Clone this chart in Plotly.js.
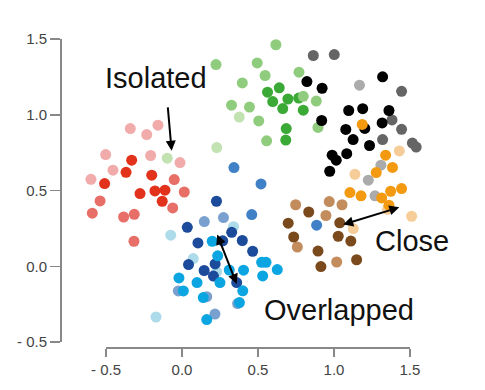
<!DOCTYPE html>
<html>
<head>
<meta charset="utf-8">
<script src="https://cdn.plot.ly/plotly-3.0.1.min.js"></script>
<style>html,body{margin:0;padding:0;background:#fff;}#chart{width:485px;height:390px;}</style>
</head>
<body>
<div id="chart"></div>
<script>
// ---- data ----
const paleRedX = [-0.340, -0.232, -0.158, -0.502, -0.206, -0.013, -0.454, -0.599];
const paleRedY = [0.909, 0.869, 0.931, 0.737, 0.731, 0.684, 0.634, 0.574];
const midRedX = [-0.051, 0.015, -0.061, -0.539, -0.590, -0.384, -0.314, -0.316];
const midRedY = [0.572, 0.490, 0.385, 0.431, 0.350, 0.325, 0.343, 0.165];
const darkRedX = [-0.331, -0.368, -0.509, -0.199, -0.276, -0.178, -0.112, -0.130];
const darkRedY = [0.700, 0.620, 0.546, 0.601, 0.480, 0.497, 0.502, 0.429];

const paleGreenX = [0.377, 0.229, -0.097];
const paleGreenY = [0.985, 0.783, 0.713];
const lightGreenX = [0.618, 0.224, 0.495, 0.547, 0.770, 0.397, 0.326, 0.444, 0.505, 0.884, 0.895, 0.557];
const lightGreenY = [1.462, 1.331, 1.342, 1.259, 1.281, 1.210, 1.063, 1.051, 0.959, 1.090, 0.916, 0.828];
const darkGreenX = [0.563, 0.640, 0.597, 0.697, 0.663, 0.768, 0.798, 0.686, 0.683];
const darkGreenY = [1.149, 1.178, 1.087, 1.104, 1.041, 1.110, 1.030, 0.909, 0.833];
const topGreenX = [0.798];
const topGreenY = [1.122];

const lightGrayX = [1.168, 1.309, 1.226, 1.270];
const lightGrayY = [1.195, 0.667, 0.568, 0.465];
const darkGrayX = [0.864, 1.002, 1.445, 1.382, 1.445, 1.320, 1.516, 1.541];
const darkGrayY = [1.391, 1.397, 1.155, 0.966, 0.904, 0.836, 0.813, 0.787];
const blackX = [0.822, 0.922, 1.320, 1.097, 1.189, 1.362, 0.919, 1.078, 1.203, 1.317, 1.126, 1.234, 1.084, 0.988, 1.015, 0.972];
const blackY = [1.219, 1.175, 1.250, 1.028, 1.040, 1.028, 0.962, 0.903, 0.910, 0.946, 0.836, 0.797, 0.743, 0.733, 0.700, 0.627];

const lightOrangeX = [1.138, 1.430, 1.511, 1.127, 1.352];
const lightOrangeY = [0.607, 0.761, 0.330, 0.249, 0.376];
const orangeX = [1.340, 1.385, 1.278, 1.186, 1.105, 1.178, 1.314, 1.373, 1.445, 1.362];
const orangeY = [0.733, 0.652, 0.618, 0.936, 0.486, 0.465, 0.451, 0.495, 0.513, 0.403];

const lightBrownX = [0.748, 0.969, 1.053, 0.947, 0.759, 1.018];
const lightBrownY = [0.406, 0.427, 0.406, 0.335, 0.127, 0.028];
const darkBrownX = [0.834, 0.699, 1.038, 0.735, 1.028, 1.111, 0.895, 1.149, 0.914];
const darkBrownY = [0.358, 0.284, 0.287, 0.193, 0.198, 0.166, 0.100, 0.043, -0.002];

const paleCyanX = [0.339, -0.074, 0.074, 0.228, -0.171];
const paleCyanY = [0.261, 0.205, 0.051, -0.038, -0.335];
const steelX = [0.147, 0.273, -0.024, 0.163, 0.366, 0.217];
const steelY = [0.295, 0.321, -0.163, -0.201, -0.246, -0.316];
const midBlueX = [0.342, 0.520, 0.459, 0.886];
const midBlueY = [0.651, 0.543, 0.341, 0.271];
const navyX = [0.227, 0.035, 0.327, 0.105, 0.268, 0.397, 0.465, 0.043, 0.218, 0.146, 0.207, 0.360];
const navyY = [0.429, 0.257, 0.224, 0.154, 0.168, 0.170, 0.099, 0.011, 0.015, -0.028, -0.065, -0.108];
const cyanX = [0.199, 0.235, 0.311, 0.405, 0.524, 0.553, 0.627, 0.531, -0.020, 0.099, 0.250, 0.009, 0.400, 0.140, 0.378, 0.163];
const cyanY = [0.165, 0.069, -0.025, -0.026, 0.026, 0.026, -0.022, -0.064, -0.077, -0.108, -0.108, -0.163, -0.162, -0.207, -0.240, -0.352];

const tickVals = [-0.5, 0.0, 0.5, 1.0, 1.5];
const xTickText = ['- 0.5', '0.0', '0.5', '1.0', '1.5'];
const yTickText = ['- 0.5', '0.0', '0.5', '1.0', '1.5'];

// ---- traces ----
const groups = [
  [paleRedX, paleRedY, '#f2abab'],
  [midRedX, midRedY, '#e86e68'],
  [darkRedX, darkRedY, '#e2321c'],
  [paleGreenX, paleGreenY, '#c2e2b2'],
  [lightGreenX, lightGreenY, '#90cc7e'],
  [darkGreenX, darkGreenY, '#3aa935'],
  [topGreenX, topGreenY, '#90cc7e'],
  [lightGrayX, lightGrayY, '#ababab'],
  [darkGrayX, darkGrayY, '#656565'],
  [blackX, blackY, '#000000'],
  [lightOrangeX, lightOrangeY, '#f6cd98'],
  [orangeX, orangeY, '#f39a10'],
  [lightBrownX, lightBrownY, '#c28c5c'],
  [darkBrownX, darkBrownY, '#7a4a1d'],
  [paleCyanX, paleCyanY, '#aedbe9'],
  [steelX, steelY, '#7aa0cf'],
  [midBlueX, midBlueY, '#3f80c7'],
  [navyX, navyY, '#1b4b9a'],
  [cyanX, cyanY, '#0ba6e2']
];
const traces = groups.map(g => ({
  type: 'scatter', mode: 'markers', x: g[0], y: g[1],
  marker: {color: g[2], size: 11, line: {width: 0}},
  hoverinfo: 'skip', showlegend: false
}));

const axisColor = '#888888';
const tickFont = {family: 'Liberation Sans, Arial, sans-serif', size: 15, color: '#444444'};
const labelFont = {family: 'Liberation Sans, Arial, sans-serif', size: 29, color: '#111111'};

const layout = {
  width: 485, height: 390,
  margin: {l: 61, r: 10, t: 20, b: 42},
  paper_bgcolor: '#ffffff', plot_bgcolor: '#ffffff',
  showlegend: false,
  xaxis: {
    range: [-0.796, 1.928], showgrid: false, zeroline: false, showline: false,
    tickvals: tickVals, ticktext: xTickText, ticks: 'outside', ticklen: 8,
    tickwidth: 1.5, tickcolor: axisColor, tickfont: tickFont
  },
  yaxis: {
    range: [-0.5396, 1.6254], showgrid: false, zeroline: false, showline: false,
    tickvals: tickVals, ticktext: yTickText, ticks: 'outside', ticklen: 10,
    tickwidth: 1.5, tickcolor: axisColor, tickfont: tickFont
  },
  shapes: [
    {type: 'line', xref: 'x', yref: 'paper', x0: -0.5, x1: 1.5, y0: 0, y1: 0,
     line: {color: axisColor, width: 2}, layer: 'below'},
    {type: 'line', xref: 'paper', yref: 'y', x0: 0, x1: 0, y0: -0.5, y1: 1.5,
     line: {color: axisColor, width: 2}, layer: 'below'}
  ],
  annotations: [
    {x: -0.172, y: 1.243, text: 'Isolated', showarrow: false, font: labelFont},
    {x: 1.513, y: 0.167, text: 'Close', showarrow: false, font: labelFont},
    {x: 1.030, y: -0.289, text: 'Overlapped', showarrow: false, font: labelFont},
    {x: -0.068, y: 0.763, ax: -0.094, ay: 1.058, axref: 'x', ayref: 'y', text: '',
     showarrow: true, arrowhead: 2, arrowsize: 1, arrowwidth: 2, arrowcolor: '#000'},
    {x: 0.360, y: -0.117, ax: 0.228, ay: 0.219, axref: 'x', ayref: 'y', text: '',
     showarrow: true, arrowhead: 2, startarrowhead: 2, arrowside: 'end+start', arrowsize: 1, startarrowsize: 1, arrowwidth: 2, arrowcolor: '#000'},
    {x: 1.430, y: 0.389, ax: 1.051, ay: 0.272, axref: 'x', ayref: 'y', text: '',
     showarrow: true, arrowhead: 2, startarrowhead: 2, arrowside: 'end+start', arrowsize: 1, startarrowsize: 1, arrowwidth: 2, arrowcolor: '#000'}
  ]
};

Plotly.newPlot('chart', traces, layout, {displayModeBar: false, staticPlot: true});
</script>
</body>
</html>
